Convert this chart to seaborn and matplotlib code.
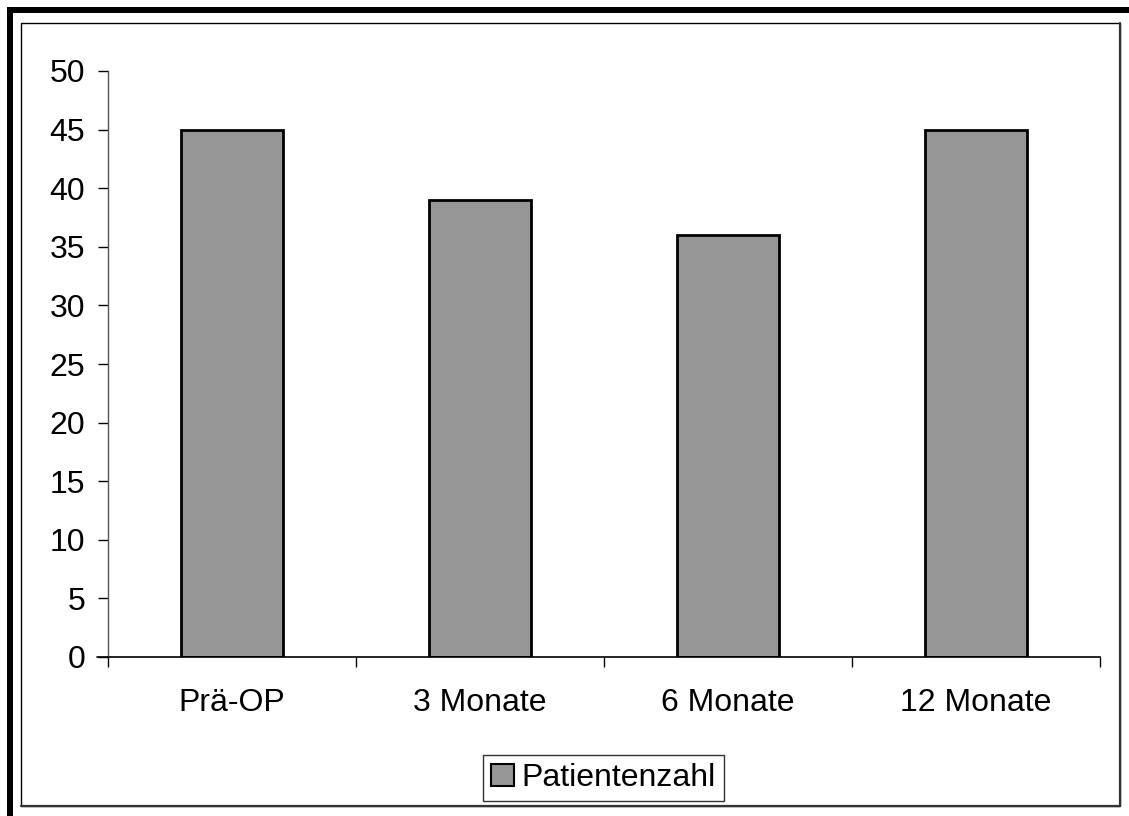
import matplotlib
matplotlib.use("Agg")
import pandas as pd
import seaborn as sns
import matplotlib.pyplot as plt
from matplotlib.patches import Rectangle, Patch

# Werte
zeitpunkte = ["Prä-OP", "3 Monate", "6 Monate", "12 Monate"]
patientenzahl = [45, 39, 36, 45]
y_ticks = [0, 5, 10, 15, 20, 25, 30, 35, 40, 45, 50]

df = pd.DataFrame({"Zeitpunkt": zeitpunkte, "Patientenzahl": patientenzahl})

sns.set_style("white")
plt.rcParams["font.family"] = ["Liberation Sans", "DejaVu Sans"]
plt.rcParams["text.color"] = "black"
plt.rcParams["xtick.color"] = "black"
plt.rcParams["ytick.color"] = "black"

W, H = 1129, 816
fig = plt.figure(figsize=(W / 100, H / 100), dpi=100)
ax = fig.add_axes([108 / W, 1 - 657 / H, (1100 - 108) / W, (657 - 71) / H])

sns.barplot(data=df, x="Zeitpunkt", y="Patientenzahl", color="#969696",
            saturation=1, width=0.41, edgecolor="black", linewidth=2, ax=ax)

ax.set_xlim(-0.5, 3.5)
ax.set_ylim(0, 50)
ax.set_yticks(y_ticks)
ax.set_xlabel("")
ax.set_ylabel("")

for s in ["top", "right"]:
    ax.spines[s].set_visible(False)
ax.spines["left"].set_color("#555555")
ax.spines["left"].set_linewidth(1)
ax.spines["bottom"].set_color("black")
ax.spines["bottom"].set_linewidth(1.2)

ax.tick_params(axis="y", which="major", direction="out", length=7.5, width=1,
               color="black", labelcolor="black", labelsize=23, pad=9, left=True)
ax.tick_params(axis="x", which="major", length=0, labelsize=23, labelcolor="black",
               pad=22, bottom=True)
ax.set_xticks([-0.5, 0.5, 1.5, 2.5, 3.5], minor=True)
ax.tick_params(axis="x", which="minor", direction="out", length=7.5, width=1,
               color="black", bottom=True)
ax.spines["bottom"].set_bounds(-0.5, 3.5)
# x-Achse leicht nach links verlängern wie im Original
ax.plot([-0.545, -0.5], [0, 0], color="black", lw=1.2, clip_on=False)

handle = Patch(facecolor="#969696", edgecolor="black", linewidth=1.5)
leg = fig.legend([handle], ["Patientenzahl"], loc="lower center",
                 bbox_to_anchor=(603.5 / W, 1 - 801 / H), fontsize=23,
                 frameon=True, fancybox=False, handlelength=0.7, handleheight=0.7,
                 handletextpad=0.25, borderpad=0.25, borderaxespad=0)
leg.get_frame().set_edgecolor("black")
leg.get_frame().set_linewidth(1)

# Rahmen um das Diagramm
def px_rect(x0, y0, x1, y1, **kw):
    fig.patches.append(Rectangle((x0 / W, 1 - y1 / H), (x1 - x0) / W, (y1 - y0) / H,
                                 transform=fig.transFigure, figure=fig, **kw))

px_rect(7, 7, 13, H, facecolor="black", edgecolor="none")
px_rect(7, 7, W, 13, facecolor="black", edgecolor="none")
px_rect(21, 23, 1120, 806, facecolor="none", edgecolor="black", linewidth=1)
fig.add_artist(plt.Line2D([1120 / W, 1120 / W], [1 - 806 / H, 1 - 23 / H],
                          transform=fig.transFigure, color="#333333", lw=1.6))
fig.add_artist(plt.Line2D([21 / W, 1120 / W], [1 - 806 / H, 1 - 806 / H],
                          transform=fig.transFigure, color="#333333", lw=1.6))

fig.savefig("out.png", dpi=100)
